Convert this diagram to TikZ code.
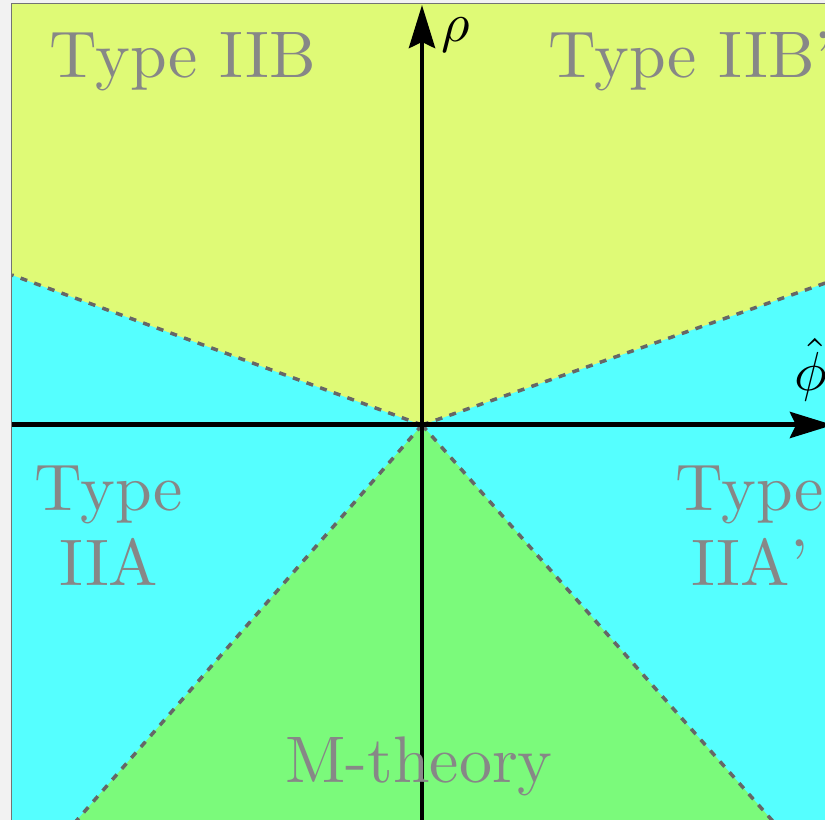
\documentclass[tikz,border=0pt]{standalone}
\usepackage{amsmath}
\usepackage{amssymb}
\usetikzlibrary{arrows.meta}

\definecolor{iibcol}{RGB}{223,250,118}
\definecolor{iiacol}{RGB}{85,255,255}
\definecolor{mcol}{RGB}{123,250,123}
\definecolor{bgcol}{RGB}{242,242,242}

\begin{document}
\begin{tikzpicture}[x=0.02cm, y=0.02cm,
    axis/.style={line width=0.1cm, -{Stealth[length=0.86cm, width=0.52cm, inset=0.12cm]}},
    border/.style={dash pattern=on 0.14cm off 0.15cm, line width=0.07cm, draw=black!60},
    region/.style={text=black!47, font=\fontsize{10}{11.4}\selectfont, scale=3.75, transform shape, inner sep=0pt, align=center},
    axlabel/.style={inner sep=0pt, scale=3.13, transform shape}]
    \useasboundingbox[fill=bgcol] (-422,-395) rectangle (403,425);

    \coordinate (O) at (0,0);
    \coordinate (ul) at (-410,150);
    \coordinate (ur) at (412,145);
    \coordinate (ll) at (-351,-402);
    \coordinate (lr) at (356,-402);

    % moduli space regions
    \begin{scope}
    \clip (-410,-402) rectangle (412,421);
    \fill[iiacol] (-410,-402) rectangle (412,421);
    \fill[iibcol] (O) -- (ul) -- (-410,421) -- (412,421) -- (ur) -- cycle;
    \fill[mcol] (O) -- (ll) -- (lr) -- cycle;
    \draw[border] (O) -- (ul);
    \draw[border] (O) -- (ur);
    \draw[border] (O) -- (ll);
    \draw[border] (O) -- (lr);
    \end{scope}
    \draw[black!55, line width=0.02cm] (-410,-402) -- (-410,421) -- (412,421);

    \draw[axis] (-410,0) -- (411,0);
    \draw[axis] (0,-402) -- (0,420);

    \node[axlabel, anchor=base west] (rho) at (18,383.5) {$\rho$};
    \node[axlabel, anchor=base] (phi) at (389,34) {$\hat{\phi}$};

    \node[region, anchor=base] (iib) at (-239,347) {Type IIB};
    \node[region, anchor=base] (iibp) at (269,347) {Type IIB'};
    \node[region] (iia) at (-313,-101) {Type\\IIA};
    \node[region] (iiap) at (328,-101) {Type\\IIA'};
    \node[region, anchor=base] (mth) at (-3,-358) {M-theory};
\end{tikzpicture}
\end{document}
